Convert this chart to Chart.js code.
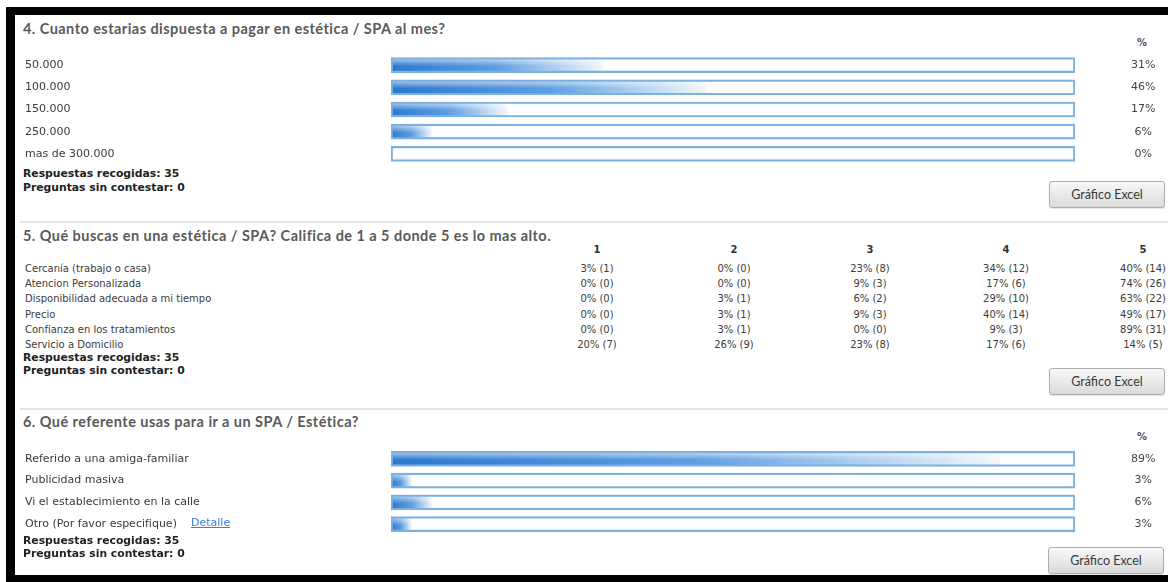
<!DOCTYPE html>
<html lang="es">
<head>
<meta charset="utf-8">
<title>Resultados encuesta SPA</title>
<script src="https://cdn.jsdelivr.net/npm/chart.js@4.4.1/dist/chart.umd.min.js"></script>
<style>
  html, body { margin: 0; padding: 0; }
  body {
    width: 1168px; height: 582px; overflow: hidden; position: relative;
    background: #fff; font-family: 'DejaVu Sans', sans-serif; color: #444;
  }
  .abs { position: absolute; white-space: nowrap; }
  .frame { position: absolute; background: #000; }
  .title { font-family: Lato, sans-serif; font-weight: 700; font-size: 14.5px; letter-spacing: 0.45px; color: #5a5a5a; line-height: 16px; }
  .pct-head { font-weight: 700; font-size: 10px; color: #555; line-height: 12px; width: 30px; text-align: center; }
  .stats { font-weight: 700; font-size: 10.8px; color: #222; line-height: 13px; }
  .btn {
    position: absolute; width: 114px; height: 25px; border: 1px solid #aeaeae; border-radius: 3px;
    background: linear-gradient(#f8f8f8, #dadada); font-family: Lato, sans-serif; font-size: 12.5px;
    color: #3a3a3a; line-height: 25px; text-align: center; box-shadow: 0 1px 1px rgba(0,0,0,0.12);
  }
  .sep { position: absolute; left: 20px; width: 1148px; height: 2px; background: #e4e4e4; }
  canvas { position: absolute; }
  .q5-label { font-size: 10px; color: #3c3c3c; line-height: 14px; }
  .q5-cell { font-size: 10px; color: #3c3c3c; line-height: 14px; width: 90px; text-align: center; }
  .q5-head { font-weight: 700; font-size: 10px; color: #333; line-height: 14px; width: 30px; text-align: center; }
  .link { font-size: 11px; color: #3a7fd5; text-decoration: underline; line-height: 14px; }
</style>
</head>
<body>

<div class="frame" style="left:6px; top:7px; width:1162px; height:8px;"></div>
<div class="frame" style="left:6px; top:7px; width:9px; height:575px;"></div>
<div class="frame" style="left:6px; top:575px; width:1162px; height:7px;"></div>

<!-- Pregunta 4 -->
<div class="abs title" style="left:23px; top:21px;">4. Cuanto estarias dispuesta a pagar en estética / SPA al mes?</div>
<div class="abs pct-head" style="left:1127px; top:37px;">%</div>
<canvas id="q4-chart" width="1143" height="111" style="left:25px; top:54px;"></canvas>
<div class="abs stats" style="left:23px; top:167px;">Respuestas recogidas: 35</div>
<div class="abs stats" style="left:23px; top:181px;">Preguntas sin contestar: 0</div>
<div class="btn" style="left:1049px; top:181px;">Gráfico Excel</div>
<div class="sep" style="top:221px;"></div>

<!-- Pregunta 5 -->
<div class="abs title" style="left:23px; top:228px;">5. Qué buscas en una estética / SPA? Califica de 1 a 5 donde 5 es lo mas alto.</div>
<div id="q5-table"></div>
<div class="abs stats" style="left:23px; top:351px;">Respuestas recogidas: 35</div>
<div class="abs stats" style="left:23px; top:364px;">Preguntas sin contestar: 0</div>
<div class="btn" style="left:1049px; top:368px;">Gráfico Excel</div>
<div class="sep" style="top:408px;"></div>

<!-- Pregunta 6 -->
<div class="abs title" style="left:23px; top:414px;">6. Qué referente usas para ir a un SPA / Estética?</div>
<div class="abs pct-head" style="left:1127px; top:431px;">%</div>
<canvas id="q6-chart" width="1143" height="87" style="left:25px; top:448px;"></canvas>
<div class="abs link" style="left:191px; top:516px;">Detalle</div>
<div class="abs stats" style="left:23px; top:534px;">Respuestas recogidas: 35</div>
<div class="abs stats" style="left:23px; top:547px;">Preguntas sin contestar: 0</div>
<div class="btn" style="left:1048px; top:547px;">Gráfico Excel</div>

<script>
// Datos
const q4Labels = ['50.000', '100.000', '150.000', '250.000', 'mas de 300.000'];
const q4Pct = [31, 46, 17, 6, 0];

const q5Rows = [
    'Cercanía (trabajo o casa)',
    'Atencion Personalizada',
    'Disponibilidad adecuada a mi tiempo',
    'Precio',
    'Confianza en los tratamientos',
    'Servicio a Domicilio'
];
const q5Cols = ['1', '2', '3', '4', '5'];
const q5Pct = [
    [3, 0, 23, 34, 40],
    [0, 0, 9, 17, 74],
    [0, 3, 6, 29, 63],
    [0, 3, 9, 40, 49],
    [0, 3, 0, 9, 89],
    [20, 26, 23, 17, 14]
];
const q5Count = [
    [1, 0, 8, 12, 14],
    [0, 0, 3, 6, 26],
    [0, 1, 2, 10, 22],
    [0, 1, 3, 14, 17],
    [0, 1, 0, 3, 31],
    [7, 9, 8, 6, 5]
];

const q6Labels = ['Referido a una amiga-familiar', 'Publicidad masiva', 'Vi el establecimiento en la calle', 'Otro (Por favor especifique)'];
const q6Pct = [89, 3, 6, 3];

Chart.defaults.font.family = "'DejaVu Sans', sans-serif";

// Degradado horizontal: azul fuerte a la izquierda, casi blanco al final de la barra
function fadeFill(ctx) {
    const chart = ctx.chart;
    const xs = chart.scales.x;
    if (!chart.chartArea || !xs) return '#3a86d6';
    const x0 = xs.getPixelForValue(0);
    const x1 = xs.getPixelForValue(Math.max(ctx.raw, 1));
    if (!isFinite(x0) || !isFinite(x1)) return '#3a86d6';
    const g = chart.ctx.createLinearGradient(x0, 0, x1, 0);
    g.addColorStop(0, '#2c78cf');
    g.addColorStop(0.5, '#5f9ee1');
    g.addColorStop(0.8, '#b6d3f1');
    g.addColorStop(1, '#f2f7fd');
    return g;
}

// Brillo en la parte superior de la barra
function glossFill(ctx) {
    const chart = ctx.chart;
    const ys = chart.scales.y;
    if (!chart.chartArea || !ys) return 'rgba(255,255,255,0)';
    const yc = ys.getPixelForValue(ctx.dataIndex);
    if (!isFinite(yc)) return 'rgba(255,255,255,0)';
    const g = chart.ctx.createLinearGradient(0, yc - 6, 0, yc + 1);
    g.addColorStop(0, 'rgba(255,255,255,0.55)');
    g.addColorStop(1, 'rgba(255,255,255,0)');
    return g;
}

// fija el ancho del eje y quita el relleno vertical que Chart.js agrega por las etiquetas
function fixAxis(width) {
    return function(scale) {
        scale.width = width;
        scale.paddingTop = 0;
        scale.paddingBottom = 0;
    };
}

function barChart(id, labels, pct) {
    const ctx = document.getElementById(id);
    const noGrid = { display: false, drawTicks: false };

    return new Chart(ctx, {
        type: 'bar',
        data: {
            labels: labels,
            datasets: [
                {
                    // marco de cada fila (100%)
                    data: labels.map(() => 100),
                    backgroundColor: 'rgba(0,0,0,0)',
                    borderColor: '#7eb0dd',
                    borderWidth: 1.5,
                    borderSkipped: false,
                    barThickness: 15,
                    grouped: false
                },
                { data: pct, backgroundColor: glossFill, barThickness: 12, grouped: false },
                { data: pct, backgroundColor: fadeFill, barThickness: 12, grouped: false }
            ]
        },
        options: {
            indexAxis: 'y',
            responsive: false,
            animation: false,
            layout: { padding: 0 },
            plugins: {
                legend: { display: false },
                tooltip: { enabled: false }
            },
            scales: {
                x: { min: 0, max: 100, display: false },
                y: {
                    grid: noGrid,
                    border: { display: false },
                    ticks: { crossAlign: 'far', padding: 0, autoSkip: false, color: '#3a3a3a', font: { size: 11 } },
                    afterFit: fixAxis(366)
                },
                y2: {
                    type: 'category',
                    labels: pct.map(v => v + '%'),
                    position: 'right',
                    offset: true,
                    grid: noGrid,
                    border: { display: false },
                    ticks: { crossAlign: 'center', padding: 56, autoSkip: false, color: '#444', font: { size: 11 } },
                    afterFit: fixAxis(93)
                }
            }
        }
    });
}

// Tabla de la pregunta 5
function buildTable() {
    const table = document.getElementById('q5-table');
    const colX = [597, 734, 870, 1006, 1143];
    let html = '';

    q5Cols.forEach((c, j) => {
        html += `<div class="abs q5-head" style="left:${colX[j] - 15}px; top:243px;">${c}</div>`;
    });

    q5Rows.forEach((row, i) => {
        const top = 262 + i * 15.2;
        html += `<div class="abs q5-label" style="left:25px; top:${top}px;">${row}</div>`;
        q5Cols.forEach((c, j) => {
            html += `<div class="abs q5-cell" style="left:${colX[j] - 45}px; top:${top}px;">${q5Pct[i][j]}% (${q5Count[i][j]})</div>`;
        });
    });

    table.innerHTML = html;
}

buildTable();
barChart('q4-chart', q4Labels, q4Pct);
barChart('q6-chart', q6Labels, q6Pct);
</script>
</body>
</html>
